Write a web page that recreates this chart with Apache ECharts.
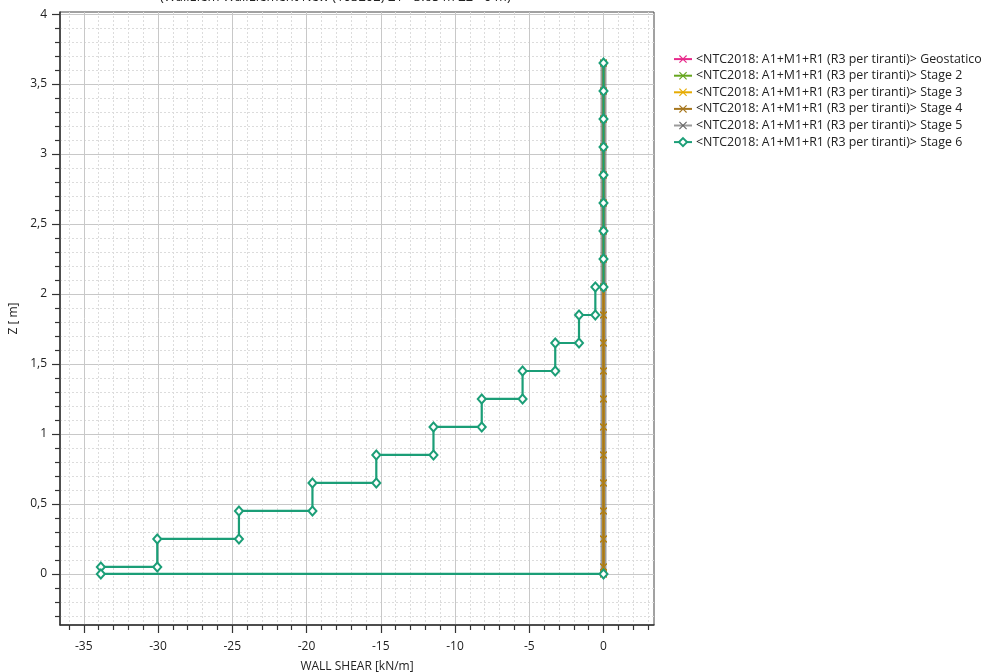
<!DOCTYPE html>
<html><head><meta charset="utf-8">
<script src="https://cdn.jsdelivr.net/npm/echarts@6/dist/echarts.min.js"></script>
<style>html,body{margin:0;padding:0;background:#fff}#c{width:985px;height:672px}</style>
</head><body><div id="c"></div>
<script>
const FONT = '"Open Sans", "Noto Sans", sans-serif';
const titleText = '(WallElem WallElement New (103202) Z1 - 3.65 m Z2 - 0 m)';
const xName = 'WALL SHEAR [kN/m]';
const yName = 'Z [ m]';
const stageNames = [
  '<NTC2018: A1+M1+R1 (R3 per tiranti)> Geostatico',
  '<NTC2018: A1+M1+R1 (R3 per tiranti)> Stage 2',
  '<NTC2018: A1+M1+R1 (R3 per tiranti)> Stage 3',
  '<NTC2018: A1+M1+R1 (R3 per tiranti)> Stage 4',
  '<NTC2018: A1+M1+R1 (R3 per tiranti)> Stage 5',
  '<NTC2018: A1+M1+R1 (R3 per tiranti)> Stage 6'
];
const stageColors = ['#e7298a', '#66a61e', '#e6ab02', '#a6761d', '#666666', '#1b9e77'];
// nodes for stages 1-5 (shear = 0 everywhere)
const nodeZ = [3.65, 3.45, 3.25, 3.05, 2.85, 2.65, 2.45, 2.25, 2.05, 1.85, 1.65, 1.45, 1.25, 1.05, 0.85, 0.65, 0.45, 0.25, 0.05, 0];
const zeroShear = [0, 0, 0, 0, 0, 0, 0, 0, 0, 0, 0, 0, 0, 0, 0, 0, 0, 0, 0, 0];
// Stage 6 stepped shear
const s6Shear = [0, 0, 0, 0, 0, 0, 0, 0, 0,
  -0.55, -0.55, -1.65, -1.65, -3.25, -3.25, -5.45, -5.45, -8.2, -8.2, -11.45, -11.45,
  -15.3, -15.3, -19.6, -19.6, -24.55, -24.55, -30.05, -30.05, -33.85, -33.85, 0];
const s6Z = [3.65, 3.45, 3.25, 3.05, 2.85, 2.65, 2.45, 2.25, 2.05,
  2.05, 1.85, 1.85, 1.65, 1.65, 1.45, 1.45, 1.25, 1.25, 1.05, 1.05, 0.85,
  0.85, 0.65, 0.65, 0.45, 0.45, 0.25, 0.25, 0.05, 0.05, 0, 0];
const xMajorTicks = [-35, -30, -25, -20, -15, -10, -5, 0];
const yMajorTicks = [0, 0.5, 1, 1.5, 2, 2.5, 3, 3.5, 4];
const xRange = [-36.6, 3.4];
const yRange = [-0.365, 4.015];
const xMinorTicks = [];
for (let v = -36; v <= 3; v++) if (v % 5 !== 0) xMinorTicks.push(v);
const yMinorTicks = [];
for (let i = -3; i <= 40; i++) if (i % 5 !== 0) yMinorTicks.push(i / 10);

const crossPath = 'path://M0,1L1,0L5,4L9,0L10,1L6,5L10,9L9,10L5,6L1,10L0,9L4,5Z';
const zip = (xs, ys) => xs.map((x, i) => [x, ys[i]]);

const series = [];
for (let k = 0; k < 5; k++) {
  series.push({
    name: stageNames[k], type: 'line', xAxisIndex: 0, yAxisIndex: 0,
    data: zip(zeroShear, nodeZ),
    color: stageColors[k],
    symbol: crossPath, symbolSize: 7, showSymbol: true,
    lineStyle: { color: stageColors[k], width: k === 4 ? 6 : 2, opacity: k === 4 ? 0.65 : 1 },
    itemStyle: { color: stageColors[k] },
    z: k === 4 ? 1 : 2, animation: false, silent: true
  });
}
series.push({
  name: stageNames[5], type: 'line', xAxisIndex: 0, yAxisIndex: 0,
  data: zip(s6Shear, s6Z),
  color: stageColors[5],
  symbol: 'diamond', symbolSize: [8, 9], showSymbol: true,
  lineStyle: { color: stageColors[5], width: 2.2 },
  itemStyle: { color: '#ffffff', borderColor: stageColors[5], borderWidth: 2 },
  z: 3, animation: false, silent: true
});

const lblFmtY = v => String(v).replace('.', ',');
const grid = { left: 60, top: 12, width: 594, height: 613, show: true, backgroundColor: '#fff', borderColor: '#444', borderWidth: 1, containLabel: false, outerBoundsMode: 'none' };

const chart = echarts.init(document.getElementById('c'), null, { renderer: 'canvas' });
chart.setOption({
  animation: false,
  backgroundColor: '#fff',
  textStyle: { fontFamily: FONT },
  grid: grid,
  graphic: [{
    type: 'text', left: 360 - 200, top: -9,
    style: { text: titleText, x: 0, y: 0, font: '13px ' + FONT, fill: '#222', width: 400, align: 'center' },
    silent: true
  }],
  legend: {
    orient: 'vertical', left: 668, top: 47,
    itemWidth: 18, itemHeight: 10, itemGap: 2.4,
    textStyle: { fontFamily: FONT, fontSize: 12.4, color: '#222', lineHeight: 14.2, padding: [0, 0, 0, -1] },
    data: stageNames, selectedMode: false
  },
  xAxis: [{
    type: 'value', position: 'bottom', min: xRange[0], max: xRange[1],
    name: xName, nameLocation: 'middle', nameGap: 36,
    nameTextStyle: { fontFamily: FONT, fontSize: 12, color: '#222' },
    axisLine: { show: true, onZero: false, lineStyle: { color: '#333', width: 1.5 } },
    axisTick: { show: true, length: 8, customValues: xMajorTicks, lineStyle: { color: '#333', width: 1.2 } },
    axisLabel: { customValues: xMajorTicks, margin: 16, fontFamily: FONT, fontSize: 12, color: '#222' },
    splitLine: { show: true, lineStyle: { color: '#c8c8c8', width: 1 } }
  }, {
    type: 'value', position: 'bottom', min: xRange[0], max: xRange[1],
    axisLine: { show: false, onZero: false },
    axisTick: { show: true, length: 5, customValues: xMinorTicks, lineStyle: { color: '#333', width: 1.2 } },
    axisLabel: { show: false, customValues: xMinorTicks },
    splitLine: { show: true, lineStyle: { color: '#dcdcdc', width: 1, type: [2, 2] } }
  }],
  yAxis: [{
    type: 'value', position: 'left', min: yRange[0], max: yRange[1],
    name: yName, nameLocation: 'middle', nameGap: 36, nameRotate: 90,
    nameTextStyle: { fontFamily: FONT, fontSize: 12, color: '#222' },
    axisLine: { show: true, onZero: false, lineStyle: { color: '#333', width: 1.5 } },
    axisTick: { show: true, length: 8, customValues: yMajorTicks, lineStyle: { color: '#333', width: 1.2 } },
    axisLabel: { customValues: yMajorTicks, margin: 13, fontFamily: FONT, fontSize: 12, color: '#222', formatter: lblFmtY },
    splitLine: { show: true, lineStyle: { color: '#c8c8c8', width: 1 } }
  }, {
    type: 'value', position: 'left', min: yRange[0], max: yRange[1],
    axisLine: { show: false, onZero: false },
    axisTick: { show: true, length: 5, customValues: yMinorTicks, lineStyle: { color: '#333', width: 1.2 } },
    axisLabel: { show: false, customValues: yMinorTicks },
    splitLine: { show: true, lineStyle: { color: '#dcdcdc', width: 1, type: [2, 2] } }
  }],
  series: series
});
</script></body></html>
